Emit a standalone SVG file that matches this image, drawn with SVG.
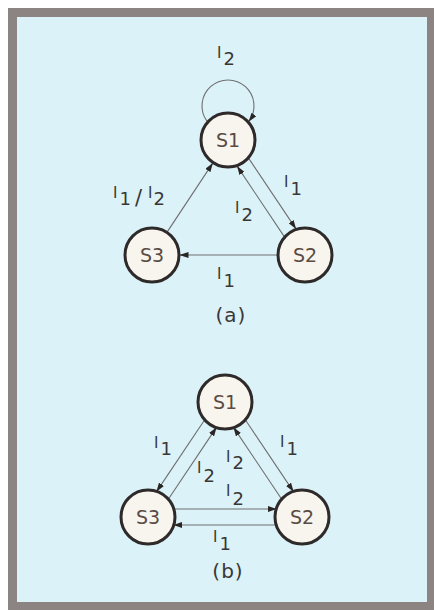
<svg xmlns="http://www.w3.org/2000/svg" width="434" height="610" viewBox="0 0 434 610">
<defs>
<style>
.frame{fill:#dbf2f8;stroke:#8c8482;stroke-width:9}
.node circle{fill:#f8f4ee;stroke:#2e2a2a;stroke-width:3}
.node text{font-family:"DejaVu Sans",sans-serif;font-size:19px;fill:#5a4c44;text-anchor:middle}
.edge{fill:none;stroke:#6e6e6e;stroke-width:1.1;marker-end:url(#ah)}
.lbl{font-family:"DejaVu Sans",sans-serif;font-size:15px;fill:#3a3636}
.sub{font-size:18px}
.sl{font-size:21px}
.cap{font-family:"DejaVu Sans",sans-serif;font-size:20px;fill:#3a3636;text-anchor:middle;letter-spacing:1px}
</style>
<marker id="ah" markerWidth="9" markerHeight="6" refX="8.5" refY="3" orient="auto" markerUnits="userSpaceOnUse">
<path d="M0,0 L9,3 L0,6 Z" fill="#2a2626"/>
</marker>
</defs>
<rect class="frame" x="12.5" y="12.5" width="419" height="594"/>

<g id="connectors">
<path class="edge" d="M207.1,121.4 A26,26 0 1 1 248.9,121.4"/>
<line class="edge" x1="248.9" y1="158.6" x2="295.8" y2="228.6"/>
<line class="edge" x1="284.1" y1="236.4" x2="237.3" y2="166.4"/>
<line class="edge" x1="167.4" y1="231.6" x2="212.6" y2="163.4"/>
<line class="edge" x1="277" y1="255" x2="180" y2="255"/>
<line class="edge" x1="204.7" y1="419.8" x2="156.7" y2="491.4"/>
<line class="edge" x1="168.3" y1="499.2" x2="216.3" y2="427.6"/>
<line class="edge" x1="245.3" y1="419.8" x2="293.3" y2="491.4"/>
<line class="edge" x1="281.7" y1="499.2" x2="233.7" y2="427.6"/>
<line class="edge" x1="173.8" y1="509" x2="276.2" y2="509"/>
<line class="edge" x1="276.2" y1="525" x2="173.8" y2="525"/>
</g>

<g id="labels">
<text class="lbl" x="217" y="58">I<tspan class="sub" dx="2" dy="7">2</tspan></text>
<text class="lbl" x="284" y="187">I<tspan class="sub" dx="2" dy="8">1</tspan></text>
<text class="lbl" x="235" y="213">I<tspan class="sub" dx="2" dy="8">2</tspan></text>
<text class="lbl" x="113" y="198">I<tspan class="sub" dx="2" dy="7">1</tspan><tspan class="sl" dx="4">/</tspan><tspan dx="6" dy="-7">I</tspan><tspan class="sub" dx="1" dy="7">2</tspan></text>
<text class="lbl" x="217" y="279">I<tspan class="sub" dx="2" dy="8">1</tspan></text>
<text class="cap" x="231" y="322">(a)</text>
<text class="lbl" x="154" y="448">I<tspan class="sub" dx="2" dy="7">1</tspan></text>
<text class="lbl" x="197" y="473">I<tspan class="sub" dx="2" dy="9">2</tspan></text>
<text class="lbl" x="226" y="462">I<tspan class="sub" dx="2" dy="7">2</tspan></text>
<text class="lbl" x="280" y="447">I<tspan class="sub" dx="2" dy="8">1</tspan></text>
<text class="lbl" x="226" y="496">I<tspan class="sub" dx="2" dy="9">2</tspan></text>
<text class="lbl" x="213" y="542">I<tspan class="sub" dx="2" dy="8">1</tspan></text>
<text class="cap" x="228" y="578">(b)</text>
</g>

<g id="a-S1" class="node"><circle cx="228" cy="140" r="27"/><text x="228" y="147">S1</text></g>
<g id="a-S2" class="node"><circle cx="305" cy="255" r="27"/><text x="305" y="262">S2</text></g>
<g id="a-S3" class="node"><circle cx="152" cy="255" r="27"/><text x="152" y="262">S3</text></g>
<g id="b-S1" class="node"><circle cx="225" cy="402" r="27"/><text x="225" y="409">S1</text></g>
<g id="b-S2" class="node"><circle cx="302" cy="517" r="27"/><text x="302" y="524">S2</text></g>
<g id="b-S3" class="node"><circle cx="148" cy="517" r="27"/><text x="148" y="524">S3</text></g>
</svg>
